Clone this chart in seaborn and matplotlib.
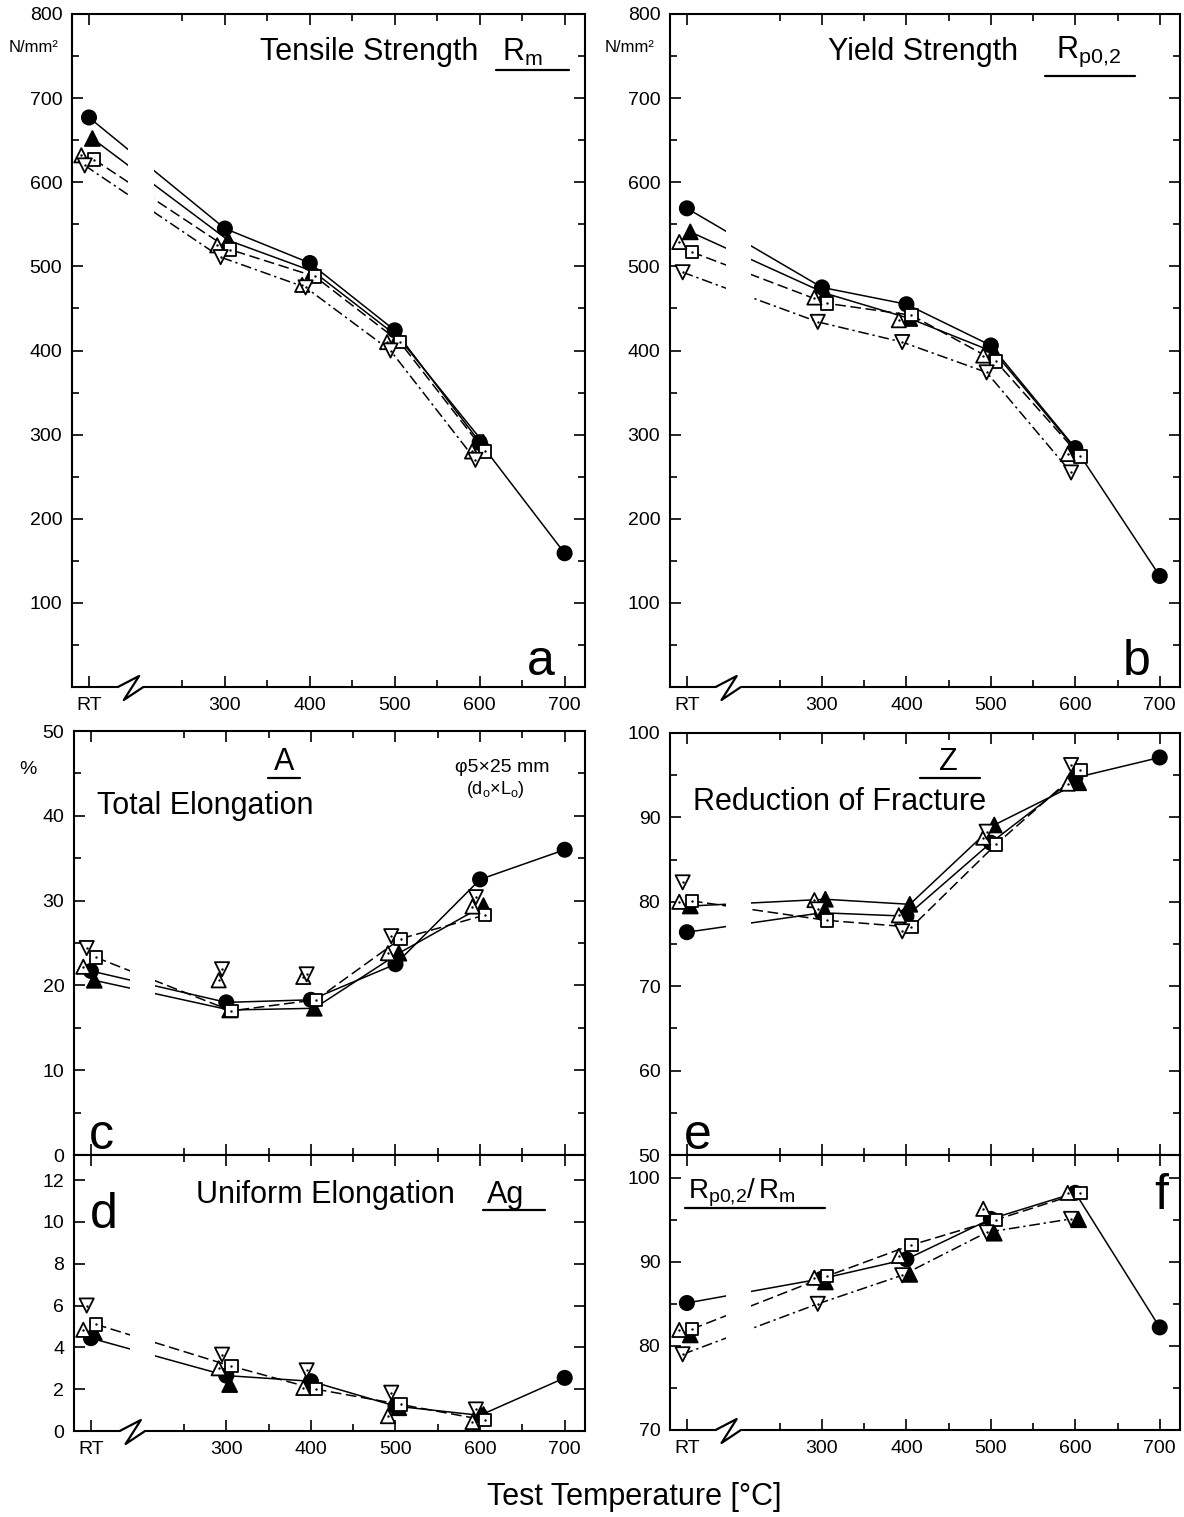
import numpy as np
import pandas as pd
import matplotlib
matplotlib.use("Agg")
import matplotlib.pyplot as plt
import matplotlib.transforms as mtransforms
from matplotlib.ticker import FixedLocator, MultipleLocator, NullLocator
import seaborn as sns

# ---------------- data ----------------
temp_labels = ["RT", "300", "400", "500", "600", "700"]
temp_values = [140, 300, 400, 500, 600, 700]      # RT drawn left of the axis break
series_names = ["circle", "tri_f", "square", "triup", "tridn"]

# a) Tensile strength Rm  [N/mm2]
a_circle = [677, 545, 504, 424, 291, 159]
a_tri_f = [652, 531, 494, 416, 291]
a_square = [627, 520, 488, 410, 280]
a_triup = [632, 525, 478, 410, 280]
a_tridn = [620, 511, 475, 400, 270]

# b) Yield strength Rp0.2  [N/mm2]
b_circle = [569, 475, 455, 406, 284, 132]
b_tri_f = [541, 468, 438, 398, 278]
b_square = [517, 456, 442, 387, 274]
b_triup = [529, 463, 436, 394, 277]
b_tridn = [493, 434, 410, 374, 255]

# c) Total elongation A  [%]
c_circle = [21.7, 18.0, 18.3, 22.5, 32.5, 36.0]
c_tri_f = [20.6, 17.1, 17.3, 23.8, 29.4]
c_square = [23.3, 17.0, 18.3, 25.5, 28.3]
c_triup = [22.2, 20.6, 21.0, 23.8, 29.3]
c_tridn = [24.4, 21.9, 21.3, 25.8, 30.4]

# d) Uniform elongation Ag  [%]
d_circle = [4.44, 2.65, 2.38, 1.19, 0.75, 2.54]
d_tri_f = [4.71, 2.22, 2.14, 1.11, 0.79]
d_square = [5.1, 3.1, 2.0, 1.27, 0.52]
d_triup = [4.84, 3.0, 2.06, 0.71, 0.43]
d_tridn = [6.0, 3.65, 2.9, 1.83, 1.03]

# e) Reduction of fracture Z  [%]
e_circle = [76.4, 78.7, 78.3, 87.0, 94.7, 97.1]
e_tri_f = [79.5, 80.3, 79.7, 89.1, 94.1]
e_square = [80.1, 77.8, 77.0, 86.8, 95.6]
e_triup = [80.0, 80.2, 78.4, 87.6, 94.0]
e_tridn = [82.3, 79.1, 76.5, 88.3, 96.2]

# f) Rp0.2 / Rm  [%]
f_circle = [85.1, 88.0, 90.3, 95.1, 98.2, 82.2]
f_tri_f = [81.3, 87.6, 88.5, 93.4, 95.0]
f_square = [82.0, 88.3, 92.0, 95.0, 98.2]
f_triup = [81.9, 88.1, 90.7, 96.3, 98.2]
f_tridn = [79.0, 85.0, 88.4, 93.5, 95.1]

panel_data = {
    "a": [a_circle, a_tri_f, a_square, a_triup, a_tridn],
    "b": [b_circle, b_tri_f, b_square, b_triup, b_tridn],
    "c": [c_circle, c_tri_f, c_square, c_triup, c_tridn],
    "d": [d_circle, d_tri_f, d_square, d_triup, d_tridn],
    "e": [e_circle, e_tri_f, e_square, e_triup, e_tridn],
    "f": [f_circle, f_tri_f, f_square, f_triup, f_tridn],
}

# ---------------- styles ----------------
x_shift = {"circle": 0, "tri_f": 4, "square": 6, "triup": -9, "tridn": -5}
markers = {"circle": "o", "tri_f": "^", "square": "s", "triup": "^", "tridn": "v"}
faces = {"circle": "black", "tri_f": "black", "square": "white", "triup": "white", "tridn": "white"}
msizes = {"circle": 105, "tri_f": 115, "square": 80, "triup": 105, "tridn": 105}
dashes = {"circle": "", "tri_f": "", "square": (7, 3), "triup": (4, 3), "tridn": (7, 2.5, 1.5, 2.5)}
black = {s: "black" for s in series_names}
lined = {
    "a": ["circle", "tri_f", "square", "tridn"],
    "b": ["circle", "tri_f", "square", "tridn"],
    "c": ["circle", "tri_f", "square"],
    "d": ["circle", "square"],
    "e": ["circle", "tri_f", "square"],
    "f": ["circle", "square", "tridn"],
}

W, H = 1184, 1517
boxes = {  # left, top, right, bottom in pixels
    "a": (72, 14, 585, 687),
    "b": (670, 14, 1180, 687),
    "c": (74, 731, 585, 1155),
    "d": (74, 1155, 585, 1431),
    "e": (670, 733, 1180, 1155),
    "f": (670, 1155, 1180, 1430),
}
ylims = {"a": (0, 800), "b": (0, 800), "c": (0, 50), "d": (0, 13.2), "e": (50, 100), "f": (70, 102.7)}
ymajor = {"a": list(range(100, 801, 100)), "b": list(range(100, 801, 100)),
          "c": list(range(0, 51, 10)), "d": list(range(0, 13, 2)),
          "e": list(range(50, 101, 10)), "f": list(range(70, 101, 10))}
yminor = {"a": 50, "b": 50, "c": 5, "d": None, "e": 5, "f": 5}
xlabels_on = {"a": True, "b": True, "c": False, "d": True, "e": False, "f": True}

sns.set_style("ticks")
plt.rcParams["font.family"] = ["Liberation Sans", "DejaVu Sans"]
plt.rcParams["text.color"] = "black"
plt.rcParams["xtick.color"] = "black"
plt.rcParams["ytick.color"] = "black"
plt.rcParams["mathtext.fontset"] = "custom"
plt.rcParams["mathtext.rm"] = "Liberation Sans"
plt.rcParams["mathtext.it"] = "Liberation Sans"
plt.rcParams["mathtext.bf"] = "Liberation Sans"

fig = plt.figure(figsize=(W / 100, H / 100), dpi=100)
fig.patch.set_facecolor("white")


def fx(x):
    return x / W


def fy(y):
    return 1 - y / H


def build_df(key):
    rows = []
    for name, vals in zip(series_names, panel_data[key]):
        for i, v in enumerate(vals):
            rows.append({"series": name, "x": temp_values[i] + x_shift[name], "v": v})
    return pd.DataFrame(rows)


axes = {}
for key, (l, t, r, b) in boxes.items():
    ax = fig.add_axes([fx(l), fy(b), fx(r) - fx(l), fy(t) - fy(b)])
    axes[key] = ax
    df = build_df(key)
    dfl = df[df["series"].isin(lined[key])]
    sns.lineplot(data=dfl, x="x", y="v", hue="series", palette=black, style="series",
                 dashes=dashes, estimator=None, sort=True, legend=False,
                 lw=1.1, zorder=1, ax=ax)
    # gap of the broken temperature axis
    ax.axvspan(186, 216, color="white", lw=0, zorder=1.5)
    sns.scatterplot(data=df, x="x", y="v", hue="series", palette=faces, style="series",
                    markers=markers, size="series", sizes=msizes, edgecolor="black",
                    linewidth=1.3, legend=False, zorder=3, ax=ax)
    dfo = df[df["series"].isin(["square", "triup", "tridn"])]
    sns.scatterplot(data=dfo, x="x", y="v", color="black", s=3, marker="o",
                    linewidth=0, legend=False, zorder=4, ax=ax)

    ax.set_xlim(120, 724)
    ax.set_ylim(*ylims[key])
    ax.xaxis.set_major_locator(FixedLocator(temp_values))
    ax.xaxis.set_minor_locator(FixedLocator([250, 350, 450, 550, 650]))
    if xlabels_on[key]:
        ax.set_xticklabels(temp_labels)
    else:
        ax.set_xticklabels([])
    ax.yaxis.set_major_locator(FixedLocator(ymajor[key]))
    if yminor[key]:
        ax.yaxis.set_minor_locator(MultipleLocator(yminor[key]))
    else:
        ax.yaxis.set_minor_locator(NullLocator())
    ax.set_yticklabels([str(v) for v in ymajor[key]])
    ax.tick_params(which="both", direction="in", top=True, right=True, width=1.2, colors="black")
    ax.tick_params(which="major", length=8)
    ax.tick_params(which="minor", length=5)
    ax.tick_params(axis="y", labelsize=14, pad=7)
    ax.tick_params(axis="x", labelsize=14, pad=7)
    ax.set_xlabel("")
    ax.set_ylabel("")
    for sp in ax.spines.values():
        sp.set_linewidth(1.5)
        sp.set_color("black")

    if key in ("a", "b", "d", "f"):
        hpx = b - t
        tr = mtransforms.blended_transform_factory(ax.transData, ax.transAxes)
        ax.plot([174, 204], [0, 0], color="white", lw=5, transform=tr, clip_on=False,
                zorder=5, solid_capstyle="butt")
        ax.plot([174, 199, 181, 204], [0, 11 / hpx, -13 / hpx, 0], color="black", lw=1.6,
                transform=tr, clip_on=False, zorder=6)
        ax.set_xlim(120, 724)


def line(x1, x2, y, lw=1.6):
    fig.add_artist(plt.Line2D([fx(x1), fx(x2)], [fy(y), fy(y)], color="black", lw=lw,
                              transform=fig.transFigure))


tsize = 22
# panel a
fig.text(fx(260), fy(52), "Tensile Strength", fontsize=tsize, ha="left", va="center")
fig.text(fx(502), fy(52), r"$\mathrm{R}_{\mathrm{m}}$", fontsize=tsize, ha="left", va="center")
line(496, 569, 70)
fig.text(fx(34), fy(47), "N/mm²", fontsize=12, ha="center", va="center")
# panel b
fig.text(fx(828), fy(52), "Yield Strength", fontsize=tsize, ha="left", va="center")
fig.text(fx(1056), fy(52), r"$\mathrm{R}_{\mathrm{p0{,}2}}$", fontsize=tsize, ha="left", va="center")
line(1045, 1135, 76)
fig.text(fx(630), fy(47), "N/mm²", fontsize=12, ha="center", va="center")
# panel c
fig.text(fx(284), fy(762), "A", fontsize=tsize, ha="center", va="center")
line(268, 300, 778)
fig.text(fx(97), fy(806), "Total Elongation", fontsize=tsize, ha="left", va="center")
fig.text(fx(455), fy(767), "φ5×25 mm", fontsize=14, ha="left", va="center")
fig.text(fx(466), fy(789), r"(d$_{\mathrm{o}}$×L$_{\mathrm{o}}$)", fontsize=13, ha="left", va="center")
fig.text(fx(28), fy(770), "%", fontsize=14, ha="center", va="center")
# panel e
fig.text(fx(948), fy(762), "Z", fontsize=tsize, ha="center", va="center")
line(920, 980, 778)
fig.text(fx(693), fy(802), "Reduction of Fracture", fontsize=tsize, ha="left", va="center")
# panel d
fig.text(fx(196), fy(1195), "Uniform Elongation", fontsize=tsize, ha="left", va="center")
fig.text(fx(487), fy(1195), "Ag", fontsize=tsize, ha="left", va="center")
line(483, 545, 1210)
# panel f
fig.text(fx(688), fy(1193), r"$\mathrm{R}_{\mathrm{p0{,}2}}/\,\mathrm{R}_{\mathrm{m}}$", fontsize=20,
         ha="left", va="center")
line(685, 825, 1208)

# panel letters
for lab, (x, y) in {"a": (541, 662), "b": (1137, 662), "c": (101, 1136), "d": (104, 1215),
                    "e": (698, 1136), "f": (1161, 1196)}.items():
    fig.text(fx(x), fy(y), lab, fontsize=36, ha="center", va="center")

fig.text(fx(634), fy(1497), "Test Temperature [°C]", fontsize=22, ha="center", va="center")

fig.savefig("out.png", dpi=100, facecolor="white")
